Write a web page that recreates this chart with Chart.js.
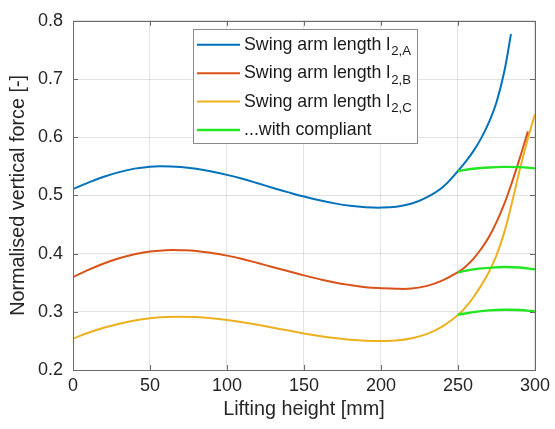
<!DOCTYPE html>
<html><head><meta charset="utf-8">
<script src="https://cdn.jsdelivr.net/npm/chart.js@4.4.0/dist/chart.umd.min.js"></script>
<style>html,body{margin:0;padding:0;background:#fff;}#wrap{width:555px;height:429px;position:relative;}</style>
</head><body><div id="wrap"><canvas id="c" width="555" height="429"></canvas></div>
<script>
const xTicks = [0, 50, 100, 150, 200, 250, 300];
const yTicks = [0.2, 0.3, 0.4, 0.5, 0.6, 0.7, 0.8];
const xTitle = 'Lifting height [mm]';
const yTitle = 'Normalised vertical force [-]';
const legendMain = ['Swing arm length l', 'Swing arm length l', 'Swing arm length l', '...with compliant'];
const legendSub = ['2,A', '2,B', '2,C', ''];

const liftA  = [0,10,20,30,40,50,57,70,80,90,100,110,120,130,140,150,160,170,180,190,200,210,220,230,240,250,255,260,265,270,275,280,284.4];
const forceA = [0.511,0.522,0.532,0.540,0.546,0.5493,0.550,0.5486,0.5456,0.5411,0.5353,0.5285,0.5208,0.5128,0.5052,0.4980,0.4917,0.4863,0.4822,0.4798,0.4790,0.4805,0.486,0.497,0.514,0.542,0.558,0.576,0.598,0.625,0.660,0.712,0.777];

const liftB  = [0,10,20,30,40,50,60,65,70,80,90,100,110,120,130,140,150,160,170,180,190,200,210,220,230,240,250,255,260,265,270,275,280,285,290,295.4];
const forceB = [0.3595,0.372,0.383,0.392,0.399,0.4035,0.4057,0.406,0.4058,0.4045,0.401,0.3965,0.3907,0.3837,0.3766,0.3696,0.3626,0.3561,0.3503,0.3459,0.3423,0.3405,0.3395,0.340,0.3445,0.354,0.368,0.378,0.391,0.408,0.428,0.454,0.485,0.522,0.563,0.610];

const liftC  = [0,10,20,30,40,50,60,68,80,90,100,110,120,130,140,150,160,170,180,190,200,210,220,230,240,250,255,260,265,270,275,280,285,290,295,300];
const forceC = [0.254,0.264,0.2725,0.2795,0.285,0.2888,0.2910,0.2917,0.2909,0.2889,0.2859,0.2821,0.2776,0.2727,0.2677,0.2629,0.2585,0.2548,0.2520,0.2503,0.2497,0.2505,0.2545,0.262,0.275,0.2945,0.308,0.325,0.345,0.368,0.397,0.436,0.487,0.543,0.594,0.640];

const liftComp   = [250,260,270,280,290,300];
const forceCompA = [0.542,0.5457,0.548,0.549,0.5485,0.5465];
const forceCompB = [0.368,0.373,0.3755,0.377,0.376,0.373];
const forceCompC = [0.2948,0.2995,0.3025,0.3035,0.303,0.3005];

const colA = '#0072BD', colB = '#D95319', colC = '#EDB120', colG = '#22e622';
const FONT = "'Liberation Sans', Arial, Helvetica, sans-serif";

function pts(xs, ys) { return xs.map((x, i) => ({x: x, y: ys[i]})); }

const boxTicks = {
  id: 'boxTicks',
  afterDatasetsDraw(chart) {
    const ctx = chart.ctx, a = chart.chartArea, sx = chart.scales.x, sy = chart.scales.y;
    ctx.save();
    ctx.strokeStyle = '#6a6a6a';
    ctx.lineWidth = 1;
    ctx.strokeRect(Math.round(a.left) + 0.5, Math.round(a.top) + 0.5, Math.round(a.right - a.left), Math.round(a.bottom - a.top));
    const L = 5;
    ctx.beginPath();
    xTicks.forEach(v => {
      const p = Math.round(sx.getPixelForValue(v)) + 0.5;
      ctx.moveTo(p, a.bottom); ctx.lineTo(p, a.bottom - L);
      ctx.moveTo(p, a.top); ctx.lineTo(p, a.top + L);
    });
    yTicks.forEach(v => {
      const p = Math.round(sy.getPixelForValue(v)) + 0.5;
      ctx.moveTo(a.left, p); ctx.lineTo(a.left + L, p);
      ctx.moveTo(a.right, p); ctx.lineTo(a.right - L, p);
    });
    ctx.stroke();
    ctx.restore();
  }
};

const subLegend = {
  id: 'subLegend',
  afterDraw(chart) {
    const ctx = chart.ctx, a = chart.chartArea;
    const colors = [colA, colB, colC, colG];
    const mainFont = '17.8px ' + FONT, subFont = '13.2px ' + FONT;
    const left = a.left + 120, top = a.top + 8;
    const rowH = 28.4, firstRow = 16;
    ctx.save();
    let maxW = 0;
    legendMain.forEach((t, i) => {
      ctx.font = mainFont; let w = ctx.measureText(t).width;
      ctx.font = subFont; w += ctx.measureText(legendSub[i]).width;
      maxW = Math.max(maxW, w);
    });
    const textX = left + 51;
    const width = 51 + maxW + 6;
    const height = firstRow + rowH * 3 + 13;
    ctx.fillStyle = '#ffffff';
    ctx.fillRect(left, top, width, height);
    ctx.strokeStyle = '#8a8a8a'; ctx.lineWidth = 1;
    ctx.strokeRect(Math.round(left) + 0.5, Math.round(top) + 0.5, Math.round(width), Math.round(height));
    legendMain.forEach((t, i) => {
      const cy = top + firstRow + rowH * i;
      ctx.strokeStyle = colors[i]; ctx.lineWidth = i === 3 ? 2.4 : 2;
      ctx.beginPath(); ctx.moveTo(left + 4, cy); ctx.lineTo(left + 47, cy); ctx.stroke();
      ctx.fillStyle = '#1a1a1a';
      ctx.textBaseline = 'alphabetic'; ctx.textAlign = 'left';
      ctx.font = mainFont;
      ctx.fillText(t, textX, cy + 5);
      const w = ctx.measureText(t).width;
      if (legendSub[i]) {
        ctx.font = subFont;
        ctx.fillText(legendSub[i], textX + w + 1, cy + 10.5);
      }
    });
    ctx.restore();
  }
};

function ds(label, data, color, width, order) {
  return {label: label, data: data, borderColor: color, backgroundColor: color, borderWidth: width,
    pointRadius: 0, fill: false, tension: 0.4, cubicInterpolationMode: 'default', order: order};
}

new Chart(document.getElementById('c'), {
  type: 'line',
  data: {
    datasets: [
      ds('Swing arm length l2,A', pts(liftA, forceA), colA, 2, 1),
      ds('Swing arm length l2,B', pts(liftB, forceB), colB, 2, 1),
      ds('Swing arm length l2,C', pts(liftC, forceC), colC, 2, 1),
      ds('...with compliant', pts(liftComp, forceCompA), colG, 2.4, 0),
      ds('...with compliant B', pts(liftComp, forceCompB), colG, 2.4, 0),
      ds('...with compliant C', pts(liftComp, forceCompC), colG, 2.4, 0)
    ]
  },
  options: {
    responsive: false,
    animation: false,
    devicePixelRatio: 1,
    layout: {padding: {top: 12, right: 17, left: 0, bottom: 0}},
    plugins: {legend: {display: false}, tooltip: {enabled: false}},
    scales: {
      x: {
        type: 'linear', min: 0, max: 300,
        afterBuildTicks: s => { s.ticks = xTicks.map(v => ({value: v})); },
        afterFit: s => { s.height = 59; },
        grid: {color: 'rgba(38,38,38,0.13)', drawTicks: false},
        border: {display: false},
        ticks: {color: '#262626', font: {size: 18, family: FONT}, padding: 5, maxRotation: 0,
          callback: v => String(v)},
        title: {display: true, text: xTitle, color: '#262626', font: {size: 19.8, family: FONT}, padding: {bottom: 8}}
      },
      y: {
        type: 'linear', min: 0.2, max: 0.8,
        afterBuildTicks: s => { s.ticks = yTicks.map(v => ({value: v})); },
        afterFit: s => { s.width = 73; },
        grid: {color: 'rgba(38,38,38,0.13)', drawTicks: false},
        border: {display: false},
        ticks: {color: '#262626', font: {size: 18, family: FONT}, padding: 10,
          callback: v => Number(v).toFixed(1)},
        title: {display: true, text: yTitle, color: '#262626', font: {size: 19.8, family: FONT}, padding: {top: 7}}
      }
    }
  },
  plugins: [boxTicks, subLegend]
});
</script>
</body></html>
